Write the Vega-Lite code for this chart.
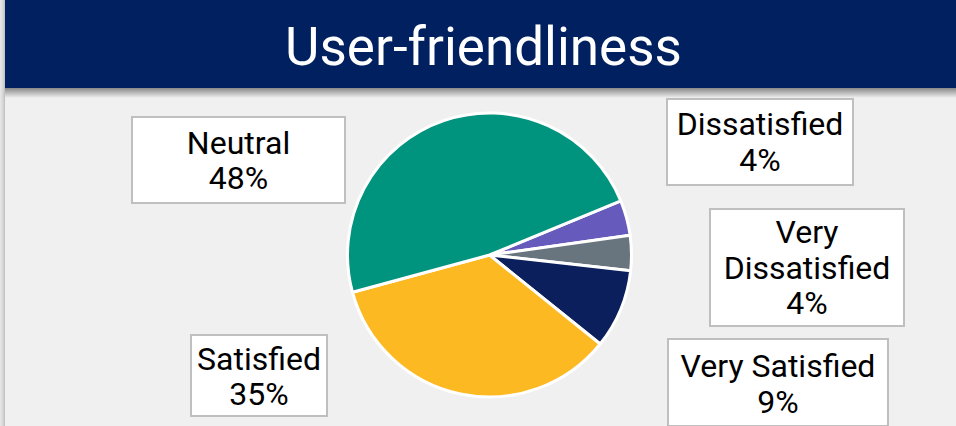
{
  "$schema": "https://vega.github.io/schema/vega-lite/v6.json",
  "background": "#f0f0f0",
  "padding": 0,
  "config": {"view": {"stroke": null}, "concat": {"spacing": 0}},
  "datasets": {
    "heading": [{"title": "User-friendliness"}],
    "survey": [
      {"category": "Dissatisfied", "pct": 0.04, "rank": 1},
      {"category": "Very Dissatisfied", "pct": 0.04, "rank": 2},
      {"category": "Very Satisfied", "pct": 0.09, "rank": 3},
      {"category": "Satisfied", "pct": 0.35, "rank": 4},
      {"category": "Neutral", "pct": 0.48, "rank": 5}
    ]
  },
  "spacing": 0,
  "hconcat": [
    {
      "width": 5, "height": 426,
      "view": {"fill": {"gradient": "linear", "x1": 0, "y1": 0, "x2": 1, "y2": 0, "stops": [{"offset": 0, "color": "#e8e8e8"}, {"offset": 0.6, "color": "#d6d6d6"}, {"offset": 1, "color": "#bdbdbd"}]}, "stroke": null},
      "data": {"values": []}, "mark": "point"
    },
    {
      "spacing": 0,
      "vconcat": [
        {
          "width": 951,
          "height": 98,
          "view": {"fill": {"gradient": "linear", "x1": 0, "y1": 0, "x2": 0, "y2": 1, "stops": [{"offset": 0, "color": "#002060"}, {"offset": 0.897, "color": "#002060"}, {"offset": 0.9, "color": "#8a8a8a"}, {"offset": 1, "color": "#f0f0f0"}]}, "stroke": null},
          "data": {"name": "heading"},
          "mark": {"type": "text", "font": "Roboto", "fontSize": 53, "color": "#ffffff", "baseline": "alphabetic", "dy": 16, "dx": 3},
          "encoding": {"text": {"field": "title", "type": "nominal"}}
        },
        {
          "spacing": 0,
          "hconcat": [
            {
              "spacing": 0,
              "vconcat": [
                {"width": 1, "height": 17, "data": {"values": []}, "mark": "point"},
                {
                  "spacing": 0,
                  "hconcat": [
                    {"width": 126, "height": 1, "data": {"values": []}, "mark": "point"},
                    {
                      "width": 213, "height": 86,
                      "view": {"fill": "#ffffff", "stroke": "#bfbfbf", "strokeWidth": 2},
                      "data": {"name": "survey"},
                      "transform": [{"filter": "datum.category === 'Neutral'"}],
                      "layer": [
                        {"mark": {"type": "text", "font": "Roboto", "fontSize": 32, "color": "#000000", "baseline": "alphabetic", "dy": -6}, "encoding": {"text": {"field": "category", "type": "nominal"}}},
                        {"mark": {"type": "text", "font": "Roboto", "fontSize": 32, "color": "#000000", "baseline": "alphabetic", "dy": 29}, "encoding": {"text": {"field": "pct", "type": "quantitative", "format": ".0%"}}}
                      ]
                    }
                  ]
                },
                {"width": 1, "height": 130, "data": {"values": []}, "mark": "point"},
                {
                  "spacing": 0,
                  "hconcat": [
                    {"width": 185, "height": 1, "data": {"values": []}, "mark": "point"},
                    {
                      "width": 136, "height": 81,
                      "view": {"fill": "#ffffff", "stroke": "#bfbfbf", "strokeWidth": 2},
                      "data": {"name": "survey"},
                      "transform": [{"filter": "datum.category === 'Satisfied'"}],
                      "layer": [
                        {"mark": {"type": "text", "font": "Roboto", "fontSize": 32, "color": "#000000", "baseline": "alphabetic", "dy": -6}, "encoding": {"text": {"field": "category", "type": "nominal"}}},
                        {"mark": {"type": "text", "font": "Roboto", "fontSize": 32, "color": "#000000", "baseline": "alphabetic", "dy": 29}, "encoding": {"text": {"field": "pct", "type": "quantitative", "format": ".0%"}}}
                      ]
                    }
                  ]
                }
              ]
            },
            {
              "width": 287,
              "height": 312,
              "data": {"name": "survey"},
              "mark": {"type": "arc", "radius": 142, "stroke": "#ffffff", "strokeWidth": 3, "strokeJoin": "round"},
              "encoding": {
                "theta": {"field": "pct", "type": "quantitative", "stack": true, "scale": {"range": [1.1798, 7.463]}},
                "order": {"field": "rank", "type": "quantitative", "sort": "ascending"},
                "color": {
                  "field": "category", "type": "nominal",
                  "scale": {"domain": ["Dissatisfied", "Very Dissatisfied", "Very Satisfied", "Satisfied", "Neutral"], "range": ["#675abd", "#69757e", "#0a1f5c", "#fdb922", "#00937e"]},
                  "legend": null
                }
              }
            },
            {
              "spacing": 0,
              "vconcat": [
                {
                  "spacing": 0,
                  "hconcat": [
                    {"width": 33, "height": 1, "data": {"values": []}, "mark": "point"},
                    {
                      "width": 186, "height": 86,
                      "view": {"fill": "#ffffff", "stroke": "#bfbfbf", "strokeWidth": 2},
                      "data": {"name": "survey"},
                      "transform": [{"filter": "datum.category === 'Dissatisfied'"}],
                      "layer": [
                        {"mark": {"type": "text", "font": "Roboto", "fontSize": 32, "color": "#000000", "baseline": "alphabetic", "dy": -7}, "encoding": {"text": {"field": "category", "type": "nominal"}}},
                        {"mark": {"type": "text", "font": "Roboto", "fontSize": 32, "color": "#000000", "baseline": "alphabetic", "dy": 29}, "encoding": {"text": {"field": "pct", "type": "quantitative", "format": ".0%"}}}
                      ]
                    }
                  ]
                },
                {"width": 1, "height": 22, "data": {"values": []}, "mark": "point"},
                {
                  "spacing": 0,
                  "hconcat": [
                    {"width": 76, "height": 1, "data": {"values": []}, "mark": "point"},
                    {
                      "width": 194, "height": 117,
                      "view": {"fill": "#ffffff", "stroke": "#bfbfbf", "strokeWidth": 2},
                      "data": {"name": "survey"},
                      "transform": [{"filter": "datum.category === 'Very Dissatisfied'"}],
                      "layer": [
                        {"mark": {"type": "text", "font": "Roboto", "fontSize": 32, "color": "#000000", "baseline": "alphabetic", "dy": -25, "lineBreak": " ", "lineHeight": 36}, "encoding": {"text": {"field": "category", "type": "nominal"}}},
                        {"mark": {"type": "text", "font": "Roboto", "fontSize": 32, "color": "#000000", "baseline": "alphabetic", "dy": 46}, "encoding": {"text": {"field": "pct", "type": "quantitative", "format": ".0%"}}}
                      ]
                    }
                  ]
                },
                {"width": 1, "height": 11, "data": {"values": []}, "mark": "point"},
                {
                  "spacing": 0,
                  "hconcat": [
                    {"width": 34, "height": 1, "data": {"values": []}, "mark": "point"},
                    {
                      "width": 220, "height": 87,
                      "view": {"fill": "#ffffff", "stroke": "#bfbfbf", "strokeWidth": 2},
                      "data": {"name": "survey"},
                      "transform": [{"filter": "datum.category === 'Very Satisfied'"}],
                      "layer": [
                        {"mark": {"type": "text", "font": "Roboto", "fontSize": 32, "color": "#000000", "baseline": "alphabetic", "dy": -6}, "encoding": {"text": {"field": "category", "type": "nominal"}}},
                        {"mark": {"type": "text", "font": "Roboto", "fontSize": 32, "color": "#000000", "baseline": "alphabetic", "dy": 30}, "encoding": {"text": {"field": "pct", "type": "quantitative", "format": ".0%"}}}
                      ]
                    }
                  ]
                }
              ]
            }
          ]
        },
        {
          "width": 951, "height": 5,
          "view": {"fill": {"gradient": "linear", "x1": 0, "y1": 0, "x2": 0, "y2": 1, "stops": [{"offset": 0, "color": "#f0f0f0"}, {"offset": 0.35, "color": "#b4b4b4"}, {"offset": 1, "color": "#8c8c8c"}]}, "stroke": null},
          "data": {"values": []}, "mark": "point"
        }
      ]
    }
  ]
}
